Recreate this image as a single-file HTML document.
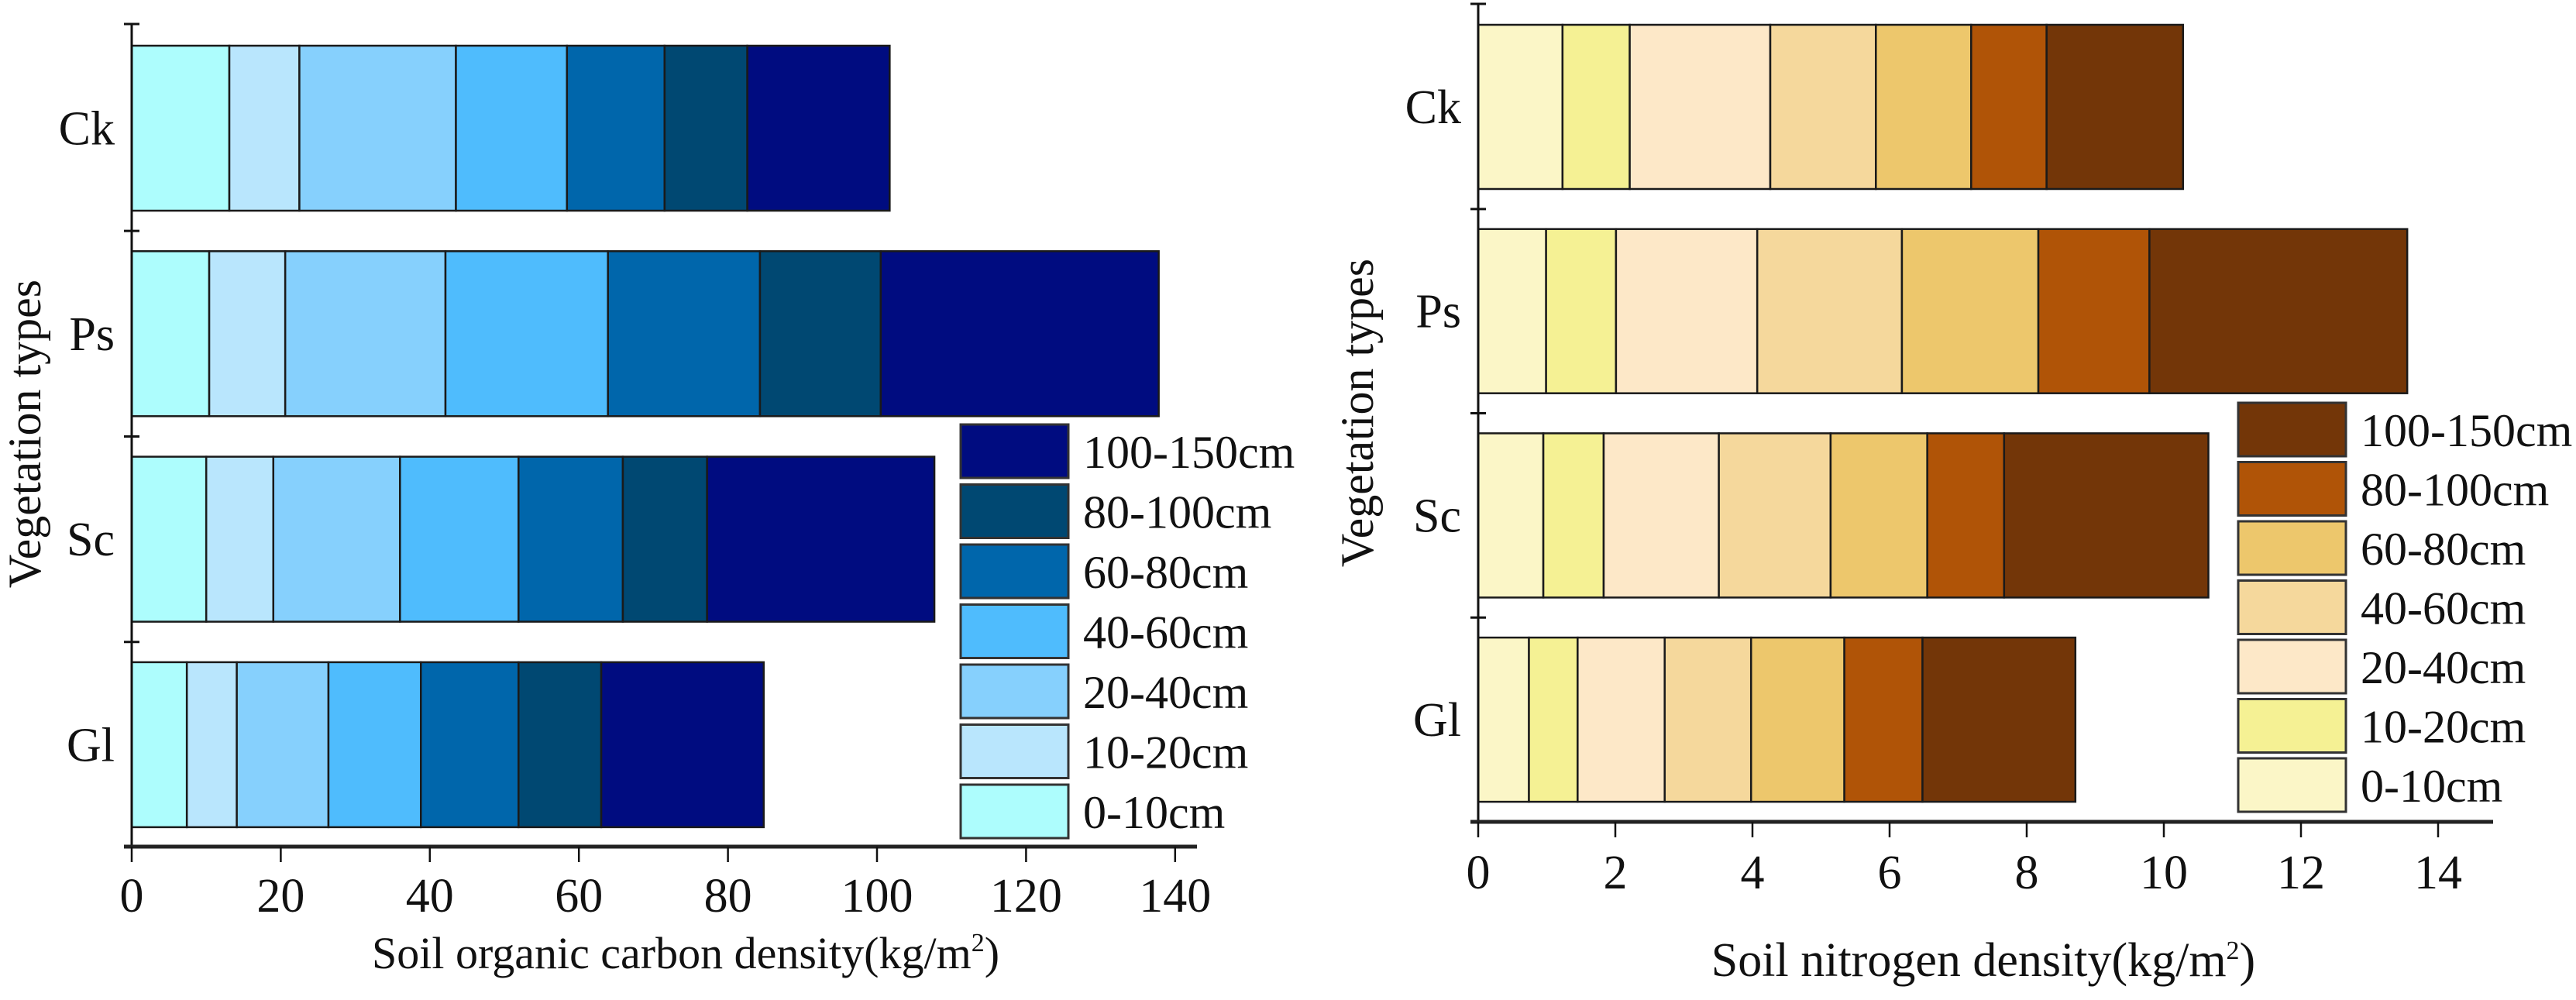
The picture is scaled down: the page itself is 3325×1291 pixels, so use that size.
<!DOCTYPE html>
<html><head><meta charset="utf-8"><style>
html,body{margin:0;padding:0;background:#fff;}
svg, svg text{font-family:"Liberation Serif","Times New Roman",serif !important;}
svg text{fill:#111;}
</style></head><body>
<svg id="chart" width="3325" height="1286" viewBox="0 0 3325 1286" xmlns="http://www.w3.org/2000/svg" font-family="Liberation Serif, serif">
<g id="left"></g>
<g id="right"></g>
</svg>
<script>
const categories = ["Ck","Ps","Sc","Gl"];
const depthLabels = ["0-10cm","10-20cm","20-40cm","40-60cm","60-80cm","80-100cm","100-150cm"];
// cumulative values per depth layer (soil organic carbon, kg/m2)
const carbonCk = [13.1,22.5,43.5,58.4,71.5,82.6,101.7];
const carbonPs = [10.4,20.6,42.1,63.9,84.3,100.5,137.8];
const carbonSc = [10.0,19.0,36.0,51.9,65.9,77.2,107.7];
const carbonGl = [7.4,14.1,26.4,38.8,51.9,63.0,84.8];
// cumulative values (soil nitrogen, kg/m2)
const nitroCk = [1.23,2.21,4.26,5.80,7.19,8.29,10.28];
const nitroPs = [0.99,2.01,4.07,6.18,8.17,9.79,13.55];
const nitroSc = [0.95,1.83,3.51,5.14,6.55,7.67,10.65];
const nitroGl = [0.74,1.45,2.72,3.98,5.34,6.48,8.71];
const carbonTicks = [0,20,40,60,80,100,120,140];
const nitroTicks = [0,2,4,6,8,10,12,14];
const blueColors = ["#adfdfd","#b9e6fd","#86d0fd","#4fbcfd","#0066ab","#004872","#000c80"];
const brownColors = ["#fbf6c7","#f5f194","#fde8c8","#f5d89c","#edc76c","#b05407","#733608"];

const NS="http://www.w3.org/2000/svg";
const FF="Liberation Serif, Times New Roman, serif";
function mk(parent,tag,attrs,text){const e=document.createElementNS(NS,tag);for(const k in attrs)e.setAttribute(k,attrs[k]);if(tag==='text')e.setAttribute('font-family',FF);if(text!==undefined)e.textContent=text;parent.appendChild(e);return e;}

function drawChart(g, cfg){
  const x = v => cfg.x0 + v*cfg.pxPerUnit;
  const yTop = i => cfg.barTop0 + i*cfg.period;
  cfg.series.forEach((cum,i)=>{
    let prev=0;
    cum.forEach((v,j)=>{
      const r=mk(g,'rect',{x:x(prev),y:yTop(i),width:x(v)-x(prev),height:cfg.barH,fill:cfg.colors[j],stroke:'#1a1a1a','stroke-width':2.5});
      
      
      prev=v;
    });
    const t=mk(g,'text',{x:cfg.x0-22,y:yTop(i)+cfg.barH/2+21,'font-size':62,'text-anchor':'end'},categories[i]);
    
    
  });
  const ya=mk(g,'line',{x1:cfg.x0,y1:cfg.axisTop,x2:cfg.x0,y2:cfg.axisY,stroke:'#111','stroke-width':3});
  
  
  for(let i=0;i<=categories.length-1;i++){
    const yy = i===0?cfg.axisTop:yTop(i)-(cfg.period-cfg.barH)/2;
    mk(g,'line',{x1:cfg.x0-10,y1:yy,x2:cfg.x0+10,y2:yy,stroke:'#111','stroke-width':3});
  }
  const xa=mk(g,'line',{x1:cfg.x0-10,y1:cfg.axisY,x2:cfg.axisEnd,y2:cfg.axisY,stroke:'#222','stroke-width':5});
  
  
  cfg.ticks.forEach(tv=>{
    mk(g,'line',{x1:x(tv),y1:cfg.axisY,x2:x(tv),y2:cfg.axisY+20,stroke:'#111','stroke-width':2.5});
    const t=mk(g,'text',{x:x(tv),y:cfg.tickLabelY,'font-size':62,'text-anchor':'middle'},String(tv));
    
    
  });
  const xt=mk(g,'text',{x:cfg.xTitleX,y:cfg.xTitleY,'font-size':cfg.xTitleSize,'text-anchor':'middle'});
  
  
  xt.appendChild(document.createTextNode(cfg.xTitle+'(kg/m'));
  mk(xt,'tspan',{dy:-22,'font-size':34},'2');
  mk(xt,'tspan',{dy:22},')');
  const yt=mk(g,'text',{x:0,y:0,'font-size':60,'text-anchor':'middle',transform:'translate('+cfg.yTitleX+','+cfg.yTitleY+') rotate(-90)'},'Vegetation types');
  
  
  for(let k=0;k<7;k++){
    const j=6-k;
    const ly=cfg.legTop+k*cfg.legPitch;
    const sw=mk(g,'rect',{x:cfg.legX,y:ly,width:139,height:69,fill:cfg.colors[j],stroke:'#333','stroke-width':3});
    
    
    const lt=mk(g,'text',{x:cfg.legX+158,y:ly+56,'font-size':60},depthLabels[j]);
    
    
  }
}

drawChart(document.getElementById('left'),{
  series:[carbonCk,carbonPs,carbonSc,carbonGl],colors:blueColors,ticks:carbonTicks,
  x0:170,pxPerUnit:9.62,barTop0:59,period:265.3,barH:213,axisTop:31,axisY:1093,axisEnd:1545,
  tickLabelY:1177,xTitle:'Soil organic carbon density',xTitleX:885,xTitleY:1250,xTitleSize:58,
  yTitleX:52,yTitleY:560,legX:1240,legTop:548,legPitch:77.5
});
drawChart(document.getElementById('right'),{
  series:[nitroCk,nitroPs,nitroSc,nitroGl],colors:brownColors,ticks:nitroTicks,
  x0:1908,pxPerUnit:88.5,barTop0:32,period:263.7,barH:212,axisTop:5,axisY:1061,axisEnd:3218,
  tickLabelY:1147,xTitle:'Soil nitrogen density',xTitleX:2560,xTitleY:1260,xTitleSize:62,
  yTitleX:1772,yTitleY:533,legX:2889,legTop:520,legPitch:76.5
});
</script>
</body></html>
